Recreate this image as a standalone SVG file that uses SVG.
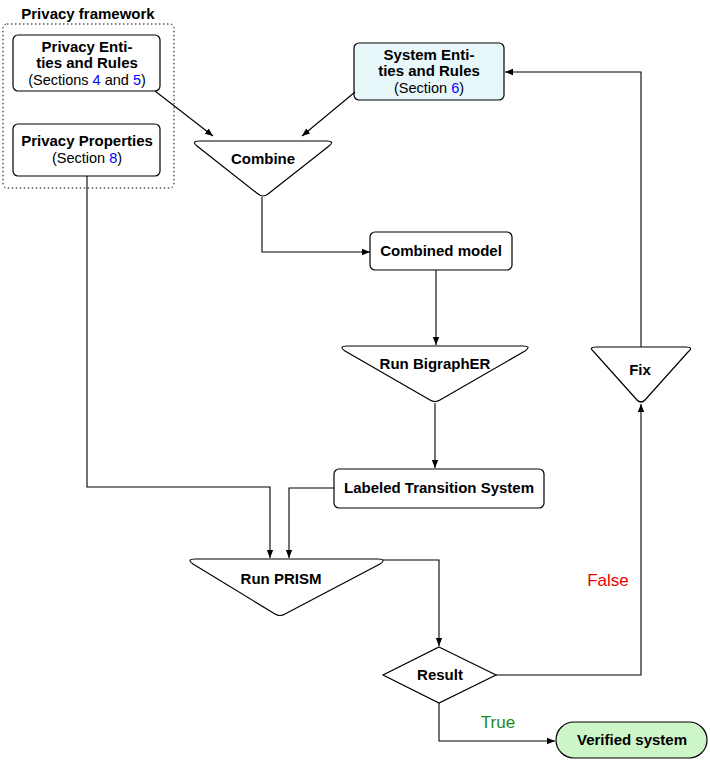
<svg xmlns="http://www.w3.org/2000/svg" width="710" height="761" viewBox="0 0 710 761">
<defs>
<marker id="ah" viewBox="0 0 10 10" refX="10" refY="5" markerWidth="8" markerHeight="8" orient="auto" markerUnits="userSpaceOnUse">
<path d="M0,1 L10,5 L0,9 Z" fill="#000"/>
</marker>
<style>
.b{fill:#fff;stroke:#000;stroke-width:1.2}
.t{font-family:"Liberation Sans",Arial,sans-serif;font-weight:bold;font-size:15px;text-anchor:middle;fill:#000}
.n{font-family:"Liberation Sans",Arial,sans-serif;font-size:14.5px;text-anchor:middle;fill:#000}
.c{fill:none;stroke:#000;stroke-width:1.1;marker-end:url(#ah)}
.l{fill:#00f}
</style>
</defs>
<rect x="0" y="0" width="710" height="761" fill="#fff"/>
<g id="framework">
<text class="t" x="88" y="19">Privacy framework</text>
<rect x="3" y="24" width="171" height="164" rx="4" fill="none" stroke="#000" stroke-width="1" stroke-dasharray="1.5,2.5"/>
</g>
<g id="privacy-entities">
<rect class="b" x="13" y="35" width="147" height="56" rx="5"/>
<text class="t" x="87" y="52">Privacy Enti-</text>
<text class="t" x="87" y="68">ties and Rules</text>
<text class="n" x="87" y="85">(Sections <tspan class="l">4</tspan> and <tspan class="l">5</tspan>)</text>
</g>
<g id="privacy-properties">
<rect class="b" x="13" y="124" width="147" height="52" rx="5"/>
<text class="t" x="87" y="146">Privacy Properties</text>
<text class="n" x="87" y="163">(Section <tspan class="l">8</tspan>)</text>
</g>
<g id="system-entities">
<rect x="354" y="43" width="150" height="57" rx="5" fill="#e8f8fa" stroke="#000" stroke-width="1.2"/>
<text class="t" x="429" y="60">System Enti-</text>
<text class="t" x="429" y="76">ties and Rules</text>
<text class="n" x="429" y="93">(Section <tspan class="l">6</tspan>)</text>
</g>
<g id="combine">
<path class="b" d="M199,141 L327,141 Q335,141 329,146 L268,194 Q263,198 258,194 L197,146 Q191,141 199,141 Z"/>
<text class="t" x="263" y="164">Combine</text>
</g>
<g id="combined-model">
<rect class="b" x="370" y="232" width="142" height="38" rx="5"/>
<text class="t" x="441" y="256">Combined model</text>
</g>
<g id="run-bigrapher">
<path class="b" d="M347,346 L523,346 Q532,346 525,351 L440,400 Q435,403 430,400 L345,351 Q338,346 347,346 Z"/>
<text class="t" x="435" y="369">Run BigraphER</text>
</g>
<g id="lts">
<rect class="b" x="334" y="469" width="210" height="39" rx="5"/>
<text class="t" x="439" y="493">Labeled Transition System</text>
</g>
<g id="run-prism">
<path class="b" d="M195,559 L378,559 Q387,559 380,564 L285,614 Q280,617 275,614 L193,564 Q186,559 195,559 Z"/>
<text class="t" x="281" y="584">Run PRISM</text>
</g>
<g id="result">
<path class="b" d="M439,647 L496,675 L439,703 L383,675 Z"/>
<text class="t" x="440" y="680">Result</text>
</g>
<g id="fix">
<path class="b" d="M596,347 L686,347 Q694,347 688,352 L645,400 Q641,404 637,400 L594,352 Q588,347 596,347 Z"/>
<text class="t" x="640" y="375">Fix</text>
</g>
<g id="verified">
<rect x="556" y="722" width="151" height="36" rx="18" fill="#ccf5c8" stroke="#000" stroke-width="1.2"/>
<text class="t" x="632" y="745">Verified system</text>
</g>
<g id="connectors">
<path class="c" d="M155,91 L213,136"/>
<path class="c" d="M355,92 L302,136"/>
<path class="c" d="M262,197 L262,252 L370,252"/>
<path class="c" d="M436,270 L436,345"/>
<path class="c" d="M435,403 L435,468"/>
<path class="c" d="M334,488 L289,488 L289,558"/>
<path class="c" d="M87,176 L87,487 L270,487 L270,558"/>
<path class="c" d="M383,560 L439,560 L439,646"/>
<path class="c" d="M496,675 L641,675 L641,404"/>
<path class="c" d="M641,347 L641,72 L505,72"/>
<path class="c" d="M439,703 L439,741 L555,741"/>
<text x="608" y="586" font-family="Liberation Sans,Arial,sans-serif" font-size="17" fill="#e00" text-anchor="middle">False</text>
<text x="498" y="728" font-family="Liberation Sans,Arial,sans-serif" font-size="17" fill="#1a8a1a" text-anchor="middle">True</text>
</g>
</svg>
